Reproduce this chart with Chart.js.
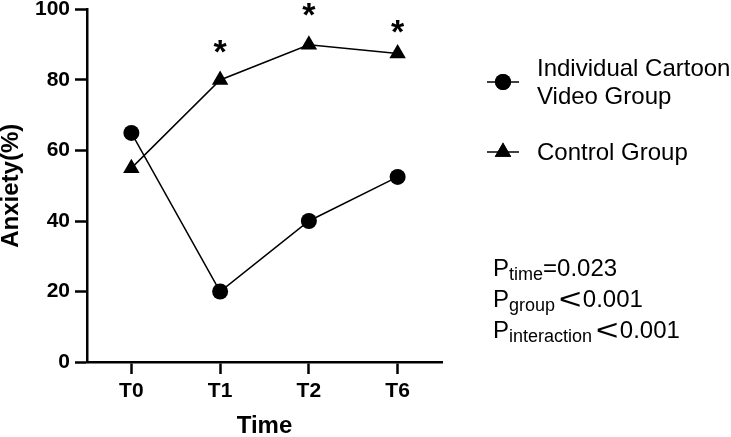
<!DOCTYPE html>
<html>
<head>
<meta charset="utf-8">
<script src="https://cdn.jsdelivr.net/npm/chart.js@4/dist/chart.umd.min.js"></script>
<style>
  html, body { margin: 0; padding: 0; background: #fff; }
  #wrap { position: relative; width: 731px; height: 437px; }
</style>
</head>
<body>
<div id="wrap"><canvas id="chart" width="731" height="437"></canvas></div>
<script>
// --- Data ---
const timePoints = ["T0", "T1", "T2", "T6"];
const cartoonGroup = [65, 20, 40, 52.5];
const controlGroup = [55, 80, 90, 87.5];
// where the significance stars sit (y value), null = no star
const starLevels = [null, 89, 99.4, 94.6];
const seriesNames = ["Individual Cartoon\nVideo Group", "Control Group"];
const pSubs = ["time", "group", "interaction"];
const pSigns = ["=", "<", "<"];
const pValues = ["0.023", "0.001", "0.001"];

const FONT = "'Liberation Sans', Arial, sans-serif";

// --- Plugins ---

const starPlugin = {
  id: "stars",
  afterDatasetsDraw(chart) {
    const { ctx, scales } = chart;
    ctx.save();
    ctx.fillStyle = "#000";
    ctx.font = `bold 34px ${FONT}`;
    ctx.textAlign = "center";
    ctx.textBaseline = "middle";
    starLevels.forEach((v, i) => {
      if (v == null) return;
      const x = scales.x.getPixelForValue(i);
      const y = scales.y.getPixelForValue(v);
      ctx.fillText("*", x, y + 5);
    });
    ctx.restore();
  }
};

const sideLegend = {
  id: "sideLegend",
  afterDraw(chart) {
    const ctx = chart.ctx;
    ctx.save();
    ctx.fillStyle = "#000";
    ctx.strokeStyle = "#000";
    ctx.lineWidth = 1.5;

    // legend entries
    const rows = [
      { y: 82, style: "circle", r: 8, text: seriesNames[0] },
      { y: 152, style: "triangle", r: 9.5, text: seriesNames[1] }
    ];
    rows.forEach(r => {
      ctx.beginPath();
      ctx.moveTo(487, r.y);
      ctx.lineTo(519, r.y);
      ctx.stroke();
      Chart.helpers.drawPoint(ctx, { pointStyle: r.style, radius: r.r, borderWidth: 0 }, 503, r.y);
      ctx.fill();
      ctx.font = `24px ${FONT}`;
      ctx.textAlign = "left";
      ctx.textBaseline = "middle";
      const parts = r.text.split("\n");
      const lh = 28;
      const y0 = r.y + 1 - (parts.length - 1) * lh / 2;
      parts.forEach((p, k) => ctx.fillText(p, 537, y0 + k * lh));
    });

    // P values
    ctx.textBaseline = "alphabetic";
    pSubs.forEach((sub, k) => {
      const base = 276 + k * 31;
      let x = 493;
      ctx.font = `24px ${FONT}`;
      ctx.fillText("P", x, base);
      x += ctx.measureText("P").width;
      ctx.font = `18px ${FONT}`;
      ctx.fillText(sub, x, base + 4);
      x += ctx.measureText(sub).width;
      if (pSigns[k] === "<") {
        // wide less-than sign as in the source figure
        x += 5;
        ctx.save();
        ctx.font = `30px ${FONT}`;
        ctx.translate(x, base + 2);
        ctx.scale(1.3, 1);
        ctx.fillText("<", -1, 0);
        const w = ctx.measureText("<").width;
        ctx.restore();
        x += w * 1.3;
      } else {
        ctx.font = `24px ${FONT}`;
        ctx.fillText(pSigns[k], x, base);
        x += ctx.measureText(pSigns[k]).width;
      }
      ctx.font = `24px ${FONT}`;
      ctx.fillText(pValues[k], x, base);
    });
    ctx.restore();
  }
};

// --- Chart ---

function axisStyle(extra) {
  return Object.assign({
    border: { display: true, color: "#000", width: 2.5 },
    grid: {
      display: true,
      drawOnChartArea: false,
      drawTicks: true,
      tickLength: 12,
      tickWidth: 2.5,
      tickColor: "#000"
    }
  }, extra);
}

function zeroPad(s) {
  s.paddingTop = 0; s.paddingBottom = 0; s.paddingLeft = 0; s.paddingRight = 0;
}

new Chart(document.getElementById("chart").getContext("2d"), {
  type: "line",
  data: {
    labels: timePoints,
    datasets: [
      {
        label: seriesNames[0],
        data: cartoonGroup,
        borderColor: "#000",
        backgroundColor: "#000",
        borderWidth: 1.5,
        pointStyle: "circle",
        pointRadius: 8,
        pointBorderWidth: 0,
        tension: 0
      },
      {
        label: seriesNames[1],
        data: controlGroup,
        borderColor: "#000",
        backgroundColor: "#000",
        borderWidth: 1.5,
        pointStyle: "triangle",
        pointRadius: 9.5,
        pointBorderWidth: 0,
        tension: 0
      }
    ]
  },
  options: {
    responsive: false,
    animation: false,
    layout: { padding: { top: 8, right: 289, left: 0, bottom: 0 } },
    plugins: { legend: { display: false }, tooltip: { enabled: false } },
    scales: {
      x: axisStyle({
        offset: true,
        ticks: { color: "#000", padding: 5, font: { family: FONT, size: 21, weight: "bold" } },
        title: {
          display: true, text: "Time", color: "#000",
          font: { family: FONT, size: 24, weight: "bold", lineHeight: 1 },
          padding: { top: 0, bottom: -1 }
        },
        afterFit(s) { s.height = 75; zeroPad(s); }
      }),
      y: axisStyle({
        min: 0,
        max: 100,
        ticks: { stepSize: 20, color: "#000", padding: 5, font: { family: FONT, size: 21, weight: "bold" } },
        title: {
          display: true, text: "Anxiety(%)", color: "#000",
          font: { family: FONT, size: 24, weight: "bold", lineHeight: 1 },
          padding: { top: -1, bottom: 0 }
        },
        afterFit(s) { s.width = 87; zeroPad(s); }
      })
    }
  },
  plugins: [starPlugin, sideLegend]
});
</script>
</body>
</html>
